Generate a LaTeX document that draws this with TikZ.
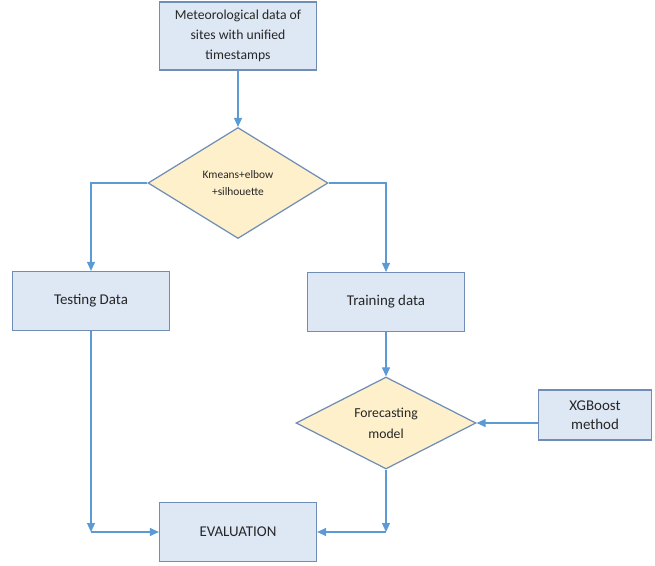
\documentclass[tikz,border=0pt]{standalone}
\usepackage{fontspec}
\setmainfont{Carlito}
\usepackage{tikz}
\usetikzlibrary{arrows.meta, positioning, shapes.geometric, calc}
\definecolor{boxfill}{HTML}{DEE8F5}
\definecolor{boxline}{HTML}{6F8DB5}
\definecolor{decfill}{HTML}{FFF0CC}
\definecolor{arrowblue}{HTML}{5B9BD5}
\definecolor{textgray}{HTML}{262626}

\begin{document}
\begin{tikzpicture}[
  x=0.02cm, y=-0.02cm,
  box/.style={draw=boxline, fill=boxfill, line width=0.7pt, minimum height=1.18cm, minimum width=3.14cm, align=center, font=\fontsize{8.5}{11}\selectfont, text=textgray},
  decision/.style={diamond, aspect=2, draw=boxline, fill=decfill, line width=0.7pt, minimum width=3.6cm, minimum height=2.22cm, inner sep=0pt, align=center, font=\fontsize{7}{10}\selectfont, text=textgray},
  arr/.style={-{Triangle[length=1.8mm, width=1.6mm]}, line width=0.6pt, color=arrowblue}
]
\useasboundingbox (0,0) rectangle (655,565);

\node[box, minimum height=1.36cm, font=\fontsize{7.8}{11.5}\selectfont] (data) at (238,36) {Meteorological data of\\ sites with unified\\ timestamps};
\node[decision, font=\fontsize{6.5}{9.5}\selectfont] (kmeans) at (238,183) {Kmeans+elbow\\ +silhouette};
\node[box] (testing) at (91,301) {Testing Data};
\node[box] (training) at (386,302) {Training data};
\node[decision, minimum height=1.84cm, font=\fontsize{7.8}{12}\selectfont] (forecast) at (386,423) {Forecasting\\ model};
\node[box, minimum width=2.26cm, minimum height=1cm] (xgb) at (595,415) {XGBoost\\ method};
\node[box] (eval) at (238,532) {EVALUATION};

\coordinate (lcorner) at (testing.south |- eval.west);
\coordinate (rcorner) at (forecast.south |- eval.east);

\draw[arr] (data) -- (kmeans);
\draw[arr] (kmeans.west) -| (testing.north);
\draw[arr] (kmeans.east) -| (training.north);
\draw[arr] (training) -- (forecast);
\draw[arr] (forecast.east -| xgb.west) -- (forecast.east);
\draw[arr] (testing.south) -- (lcorner);
\draw[arr] (lcorner) -- (eval.west);
\draw[arr] (forecast.south) -- (rcorner);
\draw[arr] (rcorner) -- (eval.east);
\end{tikzpicture}
\end{document}
